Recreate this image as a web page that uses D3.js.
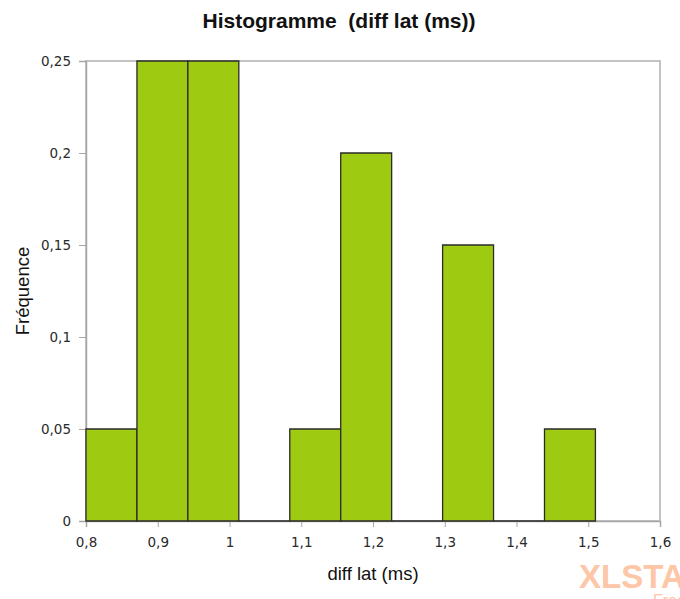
<!DOCTYPE html>
<html>
<head>
<meta charset="utf-8">
<script src="https://cdn.jsdelivr.net/npm/d3@7"></script>
<style>
  body { margin: 0; background: #fff; }
</style>
</head>
<body>
<div id="chart"></div>
<script>
// bin edges (diff lat, ms) and relative frequency per bin
var binEdges = [0.8, 0.871, 0.942, 1.013, 1.084, 1.155, 1.226, 1.297, 1.368, 1.439, 1.510];
var frequencies = [0.05, 0.25, 0.25, 0, 0.05, 0.2, 0, 0.15, 0, 0.05];
var xTicks = [0.8, 0.9, 1, 1.1, 1.2, 1.3, 1.4, 1.5, 1.6];
var yTicks = [0, 0.05, 0.1, 0.15, 0.2, 0.25];

var width = 680,
    height = 599,
    margin = {top: 61, right: 20, bottom: 78, left: 86};

var bins = frequencies.map(function (f, i) {
    return {x0: binEdges[i], x1: binEdges[i + 1], value: f};
});

var x = d3.scaleLinear().domain([0.8, 1.6]).range([margin.left, width - margin.right]);
var y = d3.scaleLinear().domain([0, 0.25]).range([height - margin.bottom, margin.top]);

var fmt = function (d) { return String(d).replace(".", ","); };
var sans = "'Liberation Sans', Arial, sans-serif";

var svg = d3.select("#chart").append("svg")
    .attr("width", width)
    .attr("height", height)
    .style("font-family", sans);

// plot frame
svg.append("rect")
    .attr("x", x(0.8))
    .attr("y", y(0.25))
    .attr("width", x(1.6) - x(0.8))
    .attr("height", y(0) - y(0.25))
    .attr("fill", "none")
    .attr("stroke", "#c4c4c4")
    .attr("stroke-width", 2);

// axes
var xAxis = svg.append("g")
    .attr("transform", "translate(0," + y(0) + ")")
    .call(d3.axisBottom(x).tickValues(xTicks).tickFormat(fmt).tickSize(6).tickPadding(10));

var yAxis = svg.append("g")
    .attr("transform", "translate(" + x(0.8) + ",0)")
    .call(d3.axisLeft(y).tickValues(yTicks).tickFormat(fmt).tickSize(7).tickPadding(8));

[xAxis, yAxis].forEach(function (g) {
    g.attr("font-family", null).attr("font-size", null);
    g.select(".domain").attr("stroke", "#a6a6a6").attr("stroke-width", 1.5);
    g.selectAll(".tick line").attr("stroke", "#a6a6a6");
    g.selectAll(".tick text")
        .attr("fill", "#2a2a2a")
        .style("font-size", "13.5px")
        .style("font-family", "'DejaVu Sans', Verdana, sans-serif");
});

// bars (paths so that empty bins still show their outline on the baseline)
svg.selectAll("path.bar")
    .data(bins)
    .enter().append("path")
    .attr("class", "bar")
    .attr("d", function (d) {
        return "M" + x(d.x0) + "," + y(0) + "V" + y(d.value) + "H" + x(d.x1) + "V" + y(0) + "Z";
    })
    .attr("fill", "#9fca12")
    .attr("stroke", "#2b2b2b")
    .attr("stroke-width", 1.3);

// title and axis labels
svg.append("text")
    .attr("x", 339)
    .attr("y", 28)
    .attr("text-anchor", "middle")
    .style("font-size", "21px")
    .style("font-weight", "bold")
    .style("white-space", "pre")
    .attr("fill", "#111")
    .text("Histogramme  (diff lat (ms))");

svg.append("text")
    .attr("x", 373)
    .attr("y", 580)
    .attr("text-anchor", "middle")
    .style("font-size", "18.5px")
    .attr("fill", "#111")
    .text("diff lat (ms)");

svg.append("text")
    .attr("transform", "translate(29,291) rotate(-90)")
    .attr("text-anchor", "middle")
    .style("font-size", "18.5px")
    .attr("fill", "#111")
    .text("Fréquence");

// watermark
svg.append("text")
    .attr("x", 579)
    .attr("y", 588)
    .style("font-size", "33px")
    .style("font-weight", "bold")
    .attr("fill", "#fdc6a6")
    .text("XLSTAT");

svg.append("text")
    .attr("x", 653)
    .attr("y", 606)
    .style("font-size", "16px")
    .attr("fill", "#fdc6a6")
    .text("Free");
</script>
</body>
</html>
